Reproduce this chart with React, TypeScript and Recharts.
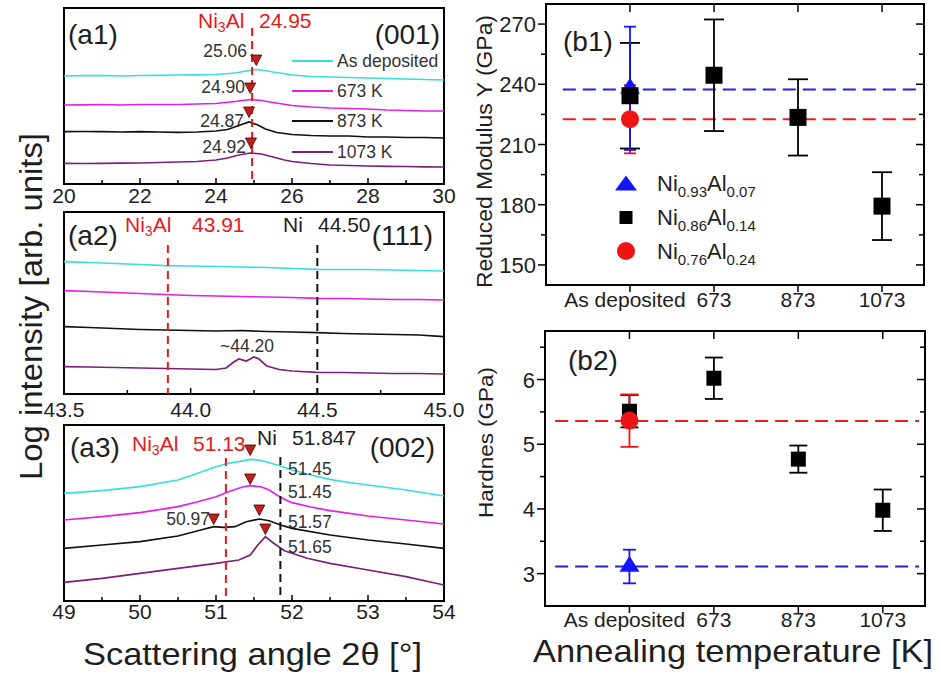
import React from 'react';
import { ComposedChart, Line, Scatter, XAxis, YAxis, ReferenceLine, ReferenceArea, ErrorBar } from 'recharts';

const FONT = '"Liberation Sans", Arial, Helvetica, sans-serif';
const TXT = '#1e1e1e';
const C_CYAN = '#38DEDE';
const C_MAG = '#E41EE4';
const C_BLK = '#111111';
const C_PUR = '#7A1F7A';
const C_RED = '#E5191C';
const C_TRI = '#C41E1A';
const B_BLUE = '#1414FA';
const B_RED = '#F01515';

type P = [number, number];

// ---------- (a1) (001) : 2theta 20-30 ----------
const a1Cyan: P[] = [[20,108],[20.5,108.3],[21,108.5],[21.5,108],[22,108.5],[22.5,108.7],[23,109],[23.5,109.2],[24,109.5],[24.5,111],[24.8,113],[25.06,114.5],[25.3,113.5],[25.5,112],[26,109],[26.5,107.5],[27,107],[27.5,106.5],[28,106],[28.5,105.5],[29,105],[29.5,104.5],[30,104]];
const a1Mag: P[] = [[20,79],[20.5,79.2],[21,79.5],[21.5,79],[22,79.5],[22.5,79.5],[23,79.5],[23.5,80],[24,80.5],[24.5,82.5],[24.9,84.5],[25.2,83.5],[25.5,81.5],[26,78.5],[26.5,77],[27,76],[27.5,75.5],[28,75],[28.5,74],[29,73.5],[29.5,73],[30,73]];
const a1Blk: P[] = [[20,52.3],[20.5,52.5],[21,52.3],[21.5,52],[22,52.3],[22.5,52],[23,51.7],[23.5,52],[24,53],[24.3,54.5],[24.6,58.5],[24.87,62],[25.1,59],[25.3,55],[25.6,51.5],[26,49.5],[26.5,48.5],[27,48],[27.5,48],[28,47],[28.5,47],[29,46.5],[29.5,46.5],[30,46]];
const a1Pur: P[] = [[20,20.7],[20.5,20.5],[21,20.7],[21.5,20.8],[22,21],[22.5,21.5],[23,22],[23.5,22.5],[24,24],[24.3,26],[24.6,29],[24.9,31],[25.2,30],[25.5,27],[25.8,24],[26,22.5],[26.5,20.5],[27,19],[27.5,18.5],[28,18],[28.5,17.7],[29,17.5],[29.5,17.2],[30,17]];
const a1PeakPos = [25.06, 24.90, 24.87, 24.92];
const a1PeakLevel = [124, 96, 72, 41];
const a1Ni3Al = 24.95;

// ---------- (a2) (111) : 2theta 43.5-45 ----------
const a2Cyan: P[] = [[43.5,132.3],[43.6,131.5],[43.7,130.5],[43.8,129.5],[43.9,128.3],[44.0,128],[44.1,127.5],[44.2,127],[44.3,126.5],[44.4,125.5],[44.5,124.7],[44.6,124.5],[44.7,124.5],[44.8,124],[44.9,123.5],[45.0,123]];
const a2Mag: P[] = [[43.5,103.3],[43.6,102.5],[43.7,101.5],[43.8,100.5],[43.9,99.5],[44.0,98.5],[44.1,98],[44.2,97.5],[44.3,97],[44.4,96.5],[44.5,95.7],[44.6,95.5],[44.7,95],[44.8,94.5],[44.9,94.5],[45.0,94]];
const a2Blk: P[] = [[43.5,67.3],[43.6,66.5],[43.7,65.5],[43.8,64.5],[43.9,64],[44.0,63.5],[44.1,63],[44.2,63.5],[44.3,62.5],[44.4,62],[44.5,61.3],[44.6,60.5],[44.7,60],[44.8,59.5],[44.9,59],[45.0,57.3]];
const a2Pur: P[] = [[43.5,27.3],[43.6,27],[43.7,26.5],[43.8,26],[43.9,25.5],[44.0,25],[44.1,24.5],[44.14,26],[44.17,32],[44.19,35],[44.22,33],[44.25,37],[44.27,35],[44.3,28],[44.35,24.5],[44.4,23],[44.5,21.7],[44.6,21.5],[44.7,21],[44.8,20.5],[44.9,20.5],[45.0,20]];
const a2Ni3Al = 43.91;
const a2Ni = 44.5;

// ---------- (a3) (002) : 2theta 49-54 ----------
const a3Cyan: P[] = [[49,107.7],[49.5,110.3],[50,114.3],[50.5,121],[50.75,127.5],[51,134.3],[51.15,137.5],[51.3,139.3],[51.45,141.7],[51.6,140.5],[51.7,138.3],[51.85,135],[52,131],[52.25,126],[52.5,121.7],[52.75,118.5],[53,116],[53.25,113.5],[53.5,111],[53.75,108],[54,105]];
const a3Mag: P[] = [[49,81],[49.5,84.3],[50,88.3],[50.5,94.3],[50.75,99],[51,104.3],[51.2,110.3],[51.35,114],[51.45,115.3],[51.6,114],[51.7,111],[51.8,106],[51.9,101.7],[52,98.3],[52.25,94],[52.5,90.3],[53,85],[53.5,81],[54,77]];
const a3Blk: P[] = [[49,52.7],[49.5,56],[50,59.3],[50.5,65],[50.8,71],[50.97,74.3],[51.1,73.7],[51.25,74.3],[51.4,79.3],[51.57,82],[51.7,80.3],[51.85,76],[52,72.7],[52.5,66],[53,61],[53.5,57],[54,52.7]];
const a3Pur: P[] = [[49,18.7],[49.5,22.7],[50,27.7],[50.5,32.7],[51,37.7],[51.3,41],[51.45,46],[51.55,56],[51.65,64.3],[51.75,58.3],[51.9,50.3],[52.2,42.7],[52.5,37.7],[53,31],[53.5,24.3],[54,16]];
const a3PeakPos = [51.45, 51.45, 51.57, 51.65, 50.97];
const a3PeakLevel = [151, 122, 91, 72, 82];
const a3Ni3Al = 51.13;
const a3Ni = 51.847;

// ---------- (b) mechanical data ----------
const bCategories = ['As deposited', '673', '873', '1073'];
const bPos = [1, 2, 3, 4];
const modNi86 = [234.3, 244.5, 223.5, 179.3];
const modNi86Err = [26.3, 27.8, 19, 16.9];
const modNi93 = [238];
const modNi93Err = [30.7];
const modNi76 = [222.6];
const modNi76Err = [17];
const modRef93 = 237.4;
const modRef76 = 222.6;

const hardNi86 = [5.51, 6.02, 4.77, 3.98];
const hardNi86Err = [0.25, 0.32, 0.21, 0.32];
const hardNi93 = [3.11];
const hardNi93Err = [0.26];
const hardNi76 = [5.365];
const hardNi76Err = [0.405];
const hardRef93 = 3.11;
const hardRef76 = 5.36;

const pts = (a: P[]) => a.map(([x, y]) => ({ x, y }));
const near = (a: number[], v: number) => a.some((m) => Math.abs(m - v) < 1e-6);

const DownTri = (p: any) => {
  const { cx, cy } = p;
  if (cx == null || cy == null) return <g />;
  return <path d={`M${cx - 5.5},${cy - 5}L${cx + 5.5},${cy - 5}L${cx},${cy + 5.5}Z`} fill={C_TRI} stroke="#3a0606" strokeWidth={0.8} />;
};

function xTickInward(majors: number[], fmt: (v: number) => string, dy: number) {
  return (p: any) => {
    const { x, y, payload } = p;
    const v = payload.value;
    const mj = near(majors, v);
    return (
      <g>
        <line x1={x} x2={x} y1={y} y2={y - (mj ? 6 : 4)} stroke="#000" strokeWidth={1.5} />
        {mj && (
          <text x={x} y={y + dy} textAnchor="middle" fontSize={21} fill={TXT} fontFamily={FONT}>{fmt(v)}</text>
        )}
      </g>
    );
  };
}

type Trace = { data: P[]; color: string };
type Ref = { x: number; h: number; color: string };

function XrdPanel(props: {
  top: number; plotTop: number; plotH: number; domain: [number, number];
  ticks: number[]; majors: number[]; fmt: (v: number) => string; dy: number;
  traces: Trace[]; refs: Ref[]; peakPos?: number[]; peakLevel?: number[];
}) {
  const { top, plotTop, plotH, domain, ticks, majors, fmt, dy, traces, refs, peakPos, peakLevel } = props;
  const W = 475;
  const MT = plotTop - top;
  const H = MT + plotH + 30;
  const peaks = peakPos ? peakPos.map((x, i) => ({ x, y: (peakLevel as number[])[i] })) : [];
  return (
    <div style={{ position: 'absolute', left: 0, top, width: W, height: H }}>
      <ComposedChart width={W} height={H} margin={{ top: MT, left: 64, right: W - 444, bottom: 0 }}>
        <XAxis dataKey="x" type="number" domain={domain} ticks={ticks} interval={0} allowDataOverflow
          axisLine={false} tickLine={false} tickSize={0} tickMargin={0} height={30}
          tick={xTickInward(majors, fmt, dy)} />
        <YAxis dataKey="y" type="number" domain={[0, plotH]} hide allowDataOverflow />
        <ReferenceArea x1={domain[0]} x2={domain[1]} y1={0} y2={plotH} fill="none" stroke="#000" strokeWidth={2} fillOpacity={0} />
        {traces.map((t, i) => (
          <Line key={i} data={pts(t.data)} dataKey="y" type="linear" stroke={t.color} strokeWidth={1.7}
            dot={false} activeDot={false} isAnimationActive={false} />
        ))}
        {refs.map((r, i) => (
          <ReferenceLine key={'r' + i} segment={[{ x: r.x, y: r.h }, { x: r.x, y: 0 }]} stroke={r.color}
            strokeWidth={2} strokeDasharray="8 5" />
        ))}
        {peaks.length > 0 && (
          <Scatter data={peaks} dataKey="y" shape={DownTri} isAnimationActive={false} />
        )}
      </ComposedChart>
    </div>
  );
}

const sqShape = (s: number) => (p: any) =>
  p.cx == null ? <g /> : <rect x={p.cx - s / 2} y={p.cy - s / 2} width={s} height={s} fill="#000" />;
const triShape = (w: number, h: number, c: string) => (p: any) =>
  p.cx == null ? <g /> : <path d={`M${p.cx},${p.cy - (2 * h) / 3}L${p.cx + w / 2},${p.cy + h / 3}L${p.cx - w / 2},${p.cy + h / 3}Z`} fill={c} />;
const circShape = (r: number, c: string) => (p: any) =>
  p.cx == null ? <g /> : <circle cx={p.cx} cy={p.cy} r={r} fill={c} />;
const noShape = () => <g />;

function yTickB(majors: number[], plotW: number) {
  return (p: any) => {
    const { x, y, payload } = p;
    const v = payload.value;
    const mj = near(majors, v);
    const L = mj ? 8 : 5;
    return (
      <g>
        <line x1={x} x2={x - L} y1={y} y2={y} stroke="#000" strokeWidth={1.5} />
        <line x1={x + plotW} x2={x + plotW - L} y1={y} y2={y} stroke="#000" strokeWidth={1.5} />
        {mj && (
          <text x={x - 10} y={y + 8} textAnchor="end" fontSize={22} fill={TXT} fontFamily={FONT}>{v}</text>
        )}
      </g>
    );
  };
}

function xTickB(plotH: number, dy: number) {
  return (p: any) => {
    const { x, y, payload } = p;
    const v = payload.value;
    const idx = bPos.indexOf(v);
    const label = idx >= 0 ? bCategories[idx] : '';
    return (
      <g>
        <line x1={x} x2={x} y1={y} y2={y + 7} stroke="#000" strokeWidth={1.5} />
        <line x1={x} x2={x} y1={y - plotH} y2={y - plotH + 8} stroke="#000" strokeWidth={1.5} />
        <text x={idx === 0 ? x - 5 : x} y={y + dy} textAnchor="middle" fontSize={21} fill={TXT} fontFamily={FONT}>{label}</text>
      </g>
    );
  };
}

function BPanel(props: {
  left: number; top: number; plotTop: number; plotW: number; plotH: number;
  yDomain: [number, number]; yTicks: number[]; yMajors: number[]; dy: number;
  black: number[]; blackErr: number[]; blue: number[]; blueErr: number[]; red: number[]; redErr: number[];
  refBlue: number; refRed: number; refFrom: number; refTo: number;
  sq: number; capBlack: number; capBlue: number; capRed: number; blueErrOnTop: boolean; dash: string;
}) {
  const p = props;
  const YW = 76;
  const W = YW + p.plotW + 17;
  const MT = p.plotTop - p.top;
  const H = MT + p.plotH + 30;
  const blackData = bPos.map((x, i) => ({ x, y: p.black[i], err: p.blackErr[i] }));
  const blueData = p.blue.map((y, i) => ({ x: bPos[i], y, err: p.blueErr[i] }));
  const redData = p.red.map((y, i) => ({ x: bPos[i], y, err: p.redErr[i] }));
  return (
    <div style={{ position: 'absolute', left: p.left, top: p.top, width: W, height: H }}>
      <ComposedChart width={W} height={H} margin={{ top: MT, left: 0, right: 17, bottom: 0 }}>
        <XAxis dataKey="x" type="number" domain={[0, 4.5]} ticks={bPos} interval={0} allowDataOverflow
          axisLine={false} tickLine={false} tickSize={0} tickMargin={0} height={30}
          tick={xTickB(p.plotH, p.dy)} />
        <YAxis dataKey="y" type="number" domain={p.yDomain} ticks={p.yTicks} interval={0} allowDataOverflow width={YW}
          axisLine={false} tickLine={false} tickSize={0} tickMargin={0} tick={yTickB(p.yMajors, p.plotW)} />
        <ReferenceArea x1={0} x2={4.5} y1={p.yDomain[0]} y2={p.yDomain[1]} fill="none" fillOpacity={0} stroke="#000" strokeWidth={2} />
        <ReferenceLine segment={[{ x: p.refFrom, y: p.refBlue }, { x: p.refTo, y: p.refBlue }]} stroke="#2222E6" strokeWidth={2} strokeDasharray={p.dash} />
        <ReferenceLine segment={[{ x: p.refFrom, y: p.refRed }, { x: p.refTo, y: p.refRed }]} stroke="#E82020" strokeWidth={2} strokeDasharray={p.dash} />
        <Scatter data={blueData} dataKey="y" shape={triShape(20, 16, B_BLUE)} isAnimationActive={false}>
          {!p.blueErrOnTop && <ErrorBar dataKey="err" direction="y" width={p.capBlue} stroke={B_BLUE} strokeWidth={1.8} />}
        </Scatter>
        <Scatter data={blackData} dataKey="y" shape={sqShape(p.sq)} isAnimationActive={false}>
          <ErrorBar dataKey="err" direction="y" width={p.capBlack} stroke="#000" strokeWidth={1.8} />
        </Scatter>
        <Scatter data={redData} dataKey="y" shape={circShape(9, B_RED)} isAnimationActive={false}>
          <ErrorBar dataKey="err" direction="y" width={p.capRed} stroke={B_RED} strokeWidth={1.8} />
        </Scatter>
        {p.blueErrOnTop && (
          <Scatter data={blueData} dataKey="y" shape={noShape} isAnimationActive={false}>
            <ErrorBar dataKey="err" direction="y" width={p.capBlue} stroke={B_BLUE} strokeWidth={1.8} />
          </Scatter>
        )}
      </ComposedChart>
    </div>
  );
}

const T = (p: { x: number; y: number; s: number; a?: 'start' | 'middle' | 'end'; c?: string; children: React.ReactNode }) => (
  <text x={p.x} y={p.y} fontSize={p.s} textAnchor={p.a || 'start'} fill={p.c || TXT} fontFamily={FONT}>{p.children}</text>
);

const Ni3Al = ({ x, y, c }: { x: number; y: number; c: string }) => (
  <text x={x} y={y} fontSize={21} fill={c} fontFamily={FONT}>
    Ni<tspan fontSize={14} dy={4}>3</tspan><tspan dy={-4}>Al</tspan>
  </text>
);

const Alloy = ({ x, y, a, b }: { x: number; y: number; a: string; b: string }) => (
  <text x={x} y={y} fontSize={22} fill={TXT} fontFamily={FONT}>
    Ni<tspan fontSize={15} dy={6}>{a}</tspan><tspan dy={-6}>Al</tspan><tspan fontSize={15} dy={6}>{b}</tspan>
  </text>
);

function Overlay() {
  const legA = [
    { c: C_CYAN, t: 'As deposited', y: 61 },
    { c: C_MAG, t: '673 K', y: 91 },
    { c: C_BLK, t: '873 K', y: 121 },
    { c: C_PUR, t: '1073 K', y: 152 },
  ];
  return (
    <svg width={941} height={681} style={{ position: 'absolute', left: 0, top: 0, pointerEvents: 'none' }}>
      {/* titles */}
      <text transform="translate(42,306.5) rotate(-90)" textAnchor="middle" fontSize={32} fill={TXT} fontFamily={FONT}
        textLength={347} lengthAdjust="spacingAndGlyphs">Log intensity [arb. units]</text>
      <text x={252.5} y={665} textAnchor="middle" fontSize={32} fill={TXT} fontFamily={FONT}
        textLength={339} lengthAdjust="spacingAndGlyphs">Scattering angle 2θ [°]</text>
      <text x={733} y={662} textAnchor="middle" fontSize={32} fill={TXT} fontFamily={FONT}
        textLength={400} lengthAdjust="spacingAndGlyphs">Annealing temperature [K]</text>
      <text transform="translate(492,151.5) rotate(-90)" textAnchor="middle" fontSize={22} fill={TXT} fontFamily={FONT}
        textLength={273} lengthAdjust="spacingAndGlyphs">Reduced Modulus Y (GPa)</text>
      <text transform="translate(493,442.5) rotate(-90)" textAnchor="middle" fontSize={21} fill={TXT} fontFamily={FONT}
        textLength={151} lengthAdjust="spacingAndGlyphs">Hardnes (GPa)</text>

      {/* a1 */}
      <T x={68} y={44} s={28}>(a1)</T>
      <T x={440} y={44} s={28} a="end">(001)</T>
      <Ni3Al x={198} y={28} c={C_RED} />
      <T x={259} y={28} s={21} c={C_RED}>24.95</T>
      <T x={247} y={57} s={17.5} a="end" c="#333">25.06</T>
      <T x={245} y={93} s={17.5} a="end" c="#333">24.90</T>
      <T x={244} y={127} s={17.5} a="end" c="#333">24.87</T>
      <T x={246} y={153} s={17.5} a="end" c="#333">24.92</T>
      {legA.map((l) => (
        <g key={l.t}>
          <line x1={292} x2={333} y1={l.y} y2={l.y} stroke={l.c} strokeWidth={2} />
          <T x={337} y={l.y + 6.3} s={17.5} c="#333">{l.t}</T>
        </g>
      ))}

      {/* a2 */}
      <T x={68} y={245} s={28}>(a2)</T>
      <T x={433} y={245} s={28} a="end">(111)</T>
      <Ni3Al x={125} y={232} c={C_RED} />
      <T x={192} y={232} s={21} c={C_RED}>43.91</T>
      <T x={283} y={232} s={21}>Ni</T>
      <T x={318} y={232} s={21}>44.50</T>
      <T x={247} y={352} s={17.5} a="middle" c="#333">~44.20</T>

      {/* a3 */}
      <T x={70} y={457} s={28}>(a3)</T>
      <T x={435} y={457} s={28} a="end">(002)</T>
      <Ni3Al x={132} y={451} c={C_RED} />
      <T x={193} y={451} s={21} c={C_RED}>51.13</T>
      <T x={257} y={445} s={21}>Ni</T>
      <T x={292} y={445} s={21}>51.847</T>
      <T x={288} y={475} s={17.5} c="#333">51.45</T>
      <T x={288} y={498} s={17.5} c="#333">51.45</T>
      <T x={288} y={528} s={17.5} c="#333">51.57</T>
      <T x={288} y={553} s={17.5} c="#333">51.65</T>
      <T x={210} y={525} s={17.5} a="end" c="#333">50.97</T>

      {/* b1 */}
      <T x={563} y={51} s={28}>(b1)</T>
      <path d="M626,175.5L637,190.5L615,190.5Z" fill={B_BLUE} />
      <rect x={619.5} y={211} width={13} height={13} fill="#000" />
      <circle cx={626} cy={251} r={9} fill={B_RED} />
      <Alloy x={657} y={191} a="0.93" b="0.07" />
      <Alloy x={657} y={225} a="0.86" b="0.14" />
      <Alloy x={657} y={259} a="0.76" b="0.24" />

      {/* b2 */}
      <T x={568} y={370} s={28}>(b2)</T>
    </svg>
  );
}

export default function App() {
  return (
    <div style={{ position: 'absolute', left: 0, top: 0, width: 941, height: 681, background: '#fff', fontFamily: FONT, overflow: 'hidden' }}>
      <XrdPanel top={0} plotTop={8} plotH={176} domain={[20, 30]}
        ticks={[20, 21, 22, 23, 24, 25, 26, 27, 28, 29, 30]} majors={[20, 22, 24, 26, 28, 30]}
        fmt={(v) => String(v)} dy={19}
        traces={[{ data: a1Cyan, color: C_CYAN }, { data: a1Mag, color: C_MAG }, { data: a1Blk, color: C_BLK }, { data: a1Pur, color: C_PUR }]}
        refs={[{ x: a1Ni3Al, h: 156, color: C_RED }]}
        peakPos={a1PeakPos} peakLevel={a1PeakLevel} />
      <XrdPanel top={200} plotTop={212} plotH={182} domain={[43.5, 45]}
        ticks={[43.5, 43.75, 44, 44.25, 44.5, 44.75, 45]} majors={[43.5, 44, 44.5, 45]}
        fmt={(v) => v.toFixed(1)} dy={23}
        traces={[{ data: a2Cyan, color: C_CYAN }, { data: a2Mag, color: C_MAG }, { data: a2Blk, color: C_BLK }, { data: a2Pur, color: C_PUR }]}
        refs={[{ x: a2Ni3Al, h: 149, color: C_RED }, { x: a2Ni, h: 149, color: '#111' }]} />
      <XrdPanel top={415} plotTop={425} plotH={176} domain={[49, 54]}
        ticks={[49, 49.5, 50, 50.5, 51, 51.5, 52, 52.5, 53, 53.5, 54]} majors={[49, 50, 51, 52, 53, 54]}
        fmt={(v) => String(v)} dy={18}
        traces={[{ data: a3Cyan, color: C_CYAN }, { data: a3Mag, color: C_MAG }, { data: a3Blk, color: C_BLK }, { data: a3Pur, color: C_PUR }]}
        refs={[{ x: a3Ni3Al, h: 143, color: C_RED }, { x: a3Ni, h: 144, color: '#111' }]}
        peakPos={a3PeakPos} peakLevel={a3PeakLevel} />
      <BPanel left={470} top={0} plotTop={4} plotW={378} plotH={281} yDomain={[140, 280]}
        yTicks={[150, 165, 180, 195, 210, 225, 240, 255, 270]} yMajors={[150, 180, 210, 240, 270]} dy={22}
        black={modNi86} blackErr={modNi86Err} blue={modNi93} blueErr={modNi93Err} red={modNi76} redErr={modNi76Err}
        refBlue={modRef93} refRed={modRef76} refFrom={0.2} refTo={4.5}
        sq={17} capBlack={10} capBlue={6} capRed={6} blueErrOnTop={true} dash="13 7" />
      <BPanel left={469} top={320} plotTop={331} plotW={380} plotH={275} yDomain={[2.5, 6.75]}
        yTicks={[3, 3.5, 4, 4.5, 5, 5.5, 6, 6.5]} yMajors={[3, 4, 5, 6]} dy={21}
        black={hardNi86} blackErr={hardNi86Err} blue={hardNi93} blueErr={hardNi93Err} red={hardNi76} redErr={hardNi76Err}
        refBlue={hardRef93} refRed={hardRef76} refFrom={0.12} refTo={4.43}
        sq={15} capBlack={9} capBlue={6.5} capRed={9} blueErrOnTop={false} dash="13 7" />
      <Overlay />
    </div>
  );
}
